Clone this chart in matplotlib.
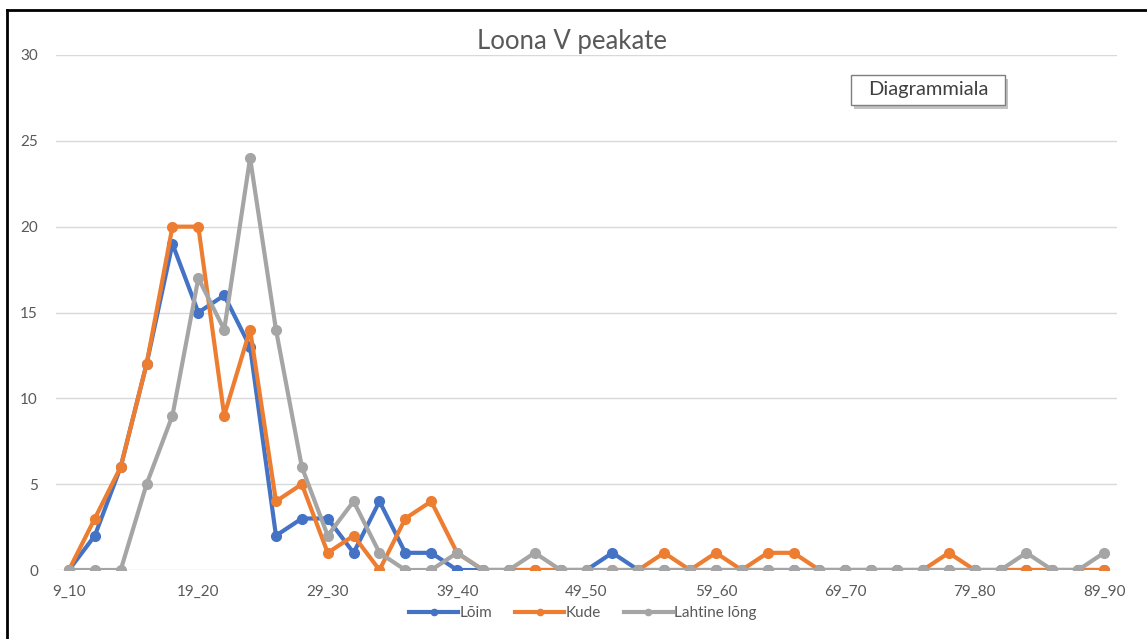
import numpy as np
from matplotlib import pyplot as plt
from matplotlib.lines import Line2D
from matplotlib.patches import Rectangle

'''
DATA
'''

# Categories 9_10, 11_12, ... 89_90
categories = ['%d_%d' % (a, a + 1) for a in range(9, 90, 2)]

loim = [0, 2, 6, 12, 19, 15, 16, 13, 2, 3, 3, 1, 4, 1, 1, 0, 0, 0, 0, 0,
        0, 1, 0, 0, 0, 0, 0, 0, 0, 0, 0, 0, 0, 0, 0, 0, 0, 0, 0, 0, 0]
kude = [0, 3, 6, 12, 20, 20, 9, 14, 4, 5, 1, 2, 0, 3, 4, 1, 0, 0, 0, 0,
        0, 0, 0, 1, 0, 1, 0, 1, 1, 0, 0, 0, 0, 0, 1, 0, 0, 0, 0, 0, 0]
lahtine = [0, 0, 0, 5, 9, 17, 14, 24, 14, 6, 2, 4, 1, 0, 0, 1, 0, 0, 1, 0,
           0, 0, 0, 0, 0, 0, 0, 0, 0, 0, 0, 0, 0, 0, 0, 0, 0, 1, 0, 0, 1]

series_names = ['Lõim', 'Kude', 'Lahtine lõng']
series_colors = ['#4472C4', '#ED7D31', '#A5A5A5']
y_ticks = [0, 5, 10, 15, 20, 25, 30]

'''
PLOT
'''

plt.rcParams['font.family'] = ['Lato', 'DejaVu Sans']

W, H = 1147, 639
fig = plt.figure(figsize=(W / 100, H / 100), dpi=100)
ax = fig.add_axes([56 / W, 1 - 570 / H, (1117 - 56) / W, (570 - 55) / H])

x = np.arange(len(categories))
for vals, name, col in zip([loim, kude, lahtine], series_names, series_colors):
    ax.plot(x, vals, '-o', color=col, lw=3.0, ms=7, label=name,
            solid_joinstyle='round', zorder=3)

ax.set_xlim(-0.5, len(categories) - 0.5)
ax.set_ylim(0, 30)
ax.set_yticks(y_ticks)
ax.yaxis.grid(True, color='#D9D9D9', lw=1)
ax.set_axisbelow(True)
ax.set_xticks(x[::5])
ax.set_xticklabels(categories[::5])
ax.tick_params(length=0, labelsize=11, colors='#595959')
ax.tick_params(axis='y', pad=13)
ax.tick_params(axis='x', pad=11)
for s in ax.spines.values():
    s.set_visible(False)

# Title
fig.text(572 / W, 1 - 42 / H, 'Loona V peakate', ha='center', va='center',
         fontsize=18.5, color='#595959')

# Legend
handles = [Line2D([], [], color=c, lw=3, marker='o', ms=4.5) for c in series_colors]
fig.legend(handles, series_names, loc='center', bbox_to_anchor=(583 / W, 1 - 613 / H),
           ncol=3, frameon=False, fontsize=11, handlelength=3.2, handletextpad=0.1,
           columnspacing=1.5, labelcolor='#595959')

# Outer frame (left and top edges)
fig.add_artist(Line2D([7 / W, 7 / W], [0, 1 - 10 / H], color='black', lw=2,
                      transform=fig.transFigure))
fig.add_artist(Line2D([7 / W, 1], [1 - 10 / H, 1 - 10 / H], color='black', lw=2,
                      transform=fig.transFigure))

# Tooltip box "Diagrammiala"
fig.add_artist(Rectangle((854 / W, 1 - 109 / H), 154 / W, 30 / H, transform=fig.transFigure,
                         facecolor='#9A9A9A', edgecolor='none', alpha=0.6))
fig.add_artist(Rectangle((851 / W, 1 - 105 / H), 154 / W, 30 / H, transform=fig.transFigure,
                         facecolor='white', edgecolor='#7F7F7F', lw=1))
fig.text(928 / W, 1 - 90 / H, 'Diagrammiala', ha='center', va='center',
         fontsize=14.5, color='#404040')

fig.savefig('out.png', dpi=100)
